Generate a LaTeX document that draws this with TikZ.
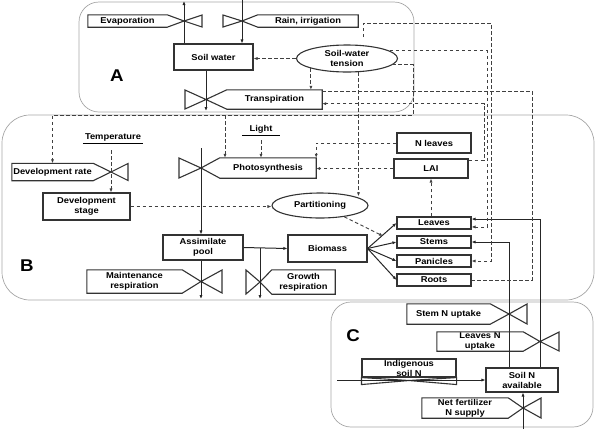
\documentclass[tikz,border=0pt]{standalone}
\usepackage{fontspec}
\setmainfont{Liberation Sans}[FakeStretch=1.1]
\usetikzlibrary{shapes.geometric,arrows.meta,calc}

\begin{document}
\begin{tikzpicture}[x=1pt,y=-1pt,
  font=\fontsize{8.5}{10}\selectfont\bfseries,
  >={Latex[length=4pt,width=3.2pt]},
  panel/.style={draw=black!35,line width=0.7pt,rounded corners=20pt},
  box/.style={draw=black!80,line width=1.1pt,align=center,inner sep=0pt},
  lbl/.style={align=center,inner sep=0pt},
  vbox/.style={draw=black!80,line width=1.1pt},
  oval/.style={ellipse,draw=black!80,line width=1.1pt,align=center,inner sep=0pt},
  flow/.style={draw=black!85,line width=1pt},
  info/.style={draw=black!75,line width=0.9pt,dash pattern=on 3.5pt off 2.5pt},
  tag/.style={font=\fontsize{17}{17}\selectfont\bfseries}]
\useasboundingbox (0,0) rectangle (602,429);

% the three sub-models
\draw[panel] (79,2) rectangle (414,112);
\draw[panel,rounded corners=28pt] (2,115) rectangle (594,300);
\draw[panel] (331,302) rectangle (593,427);
\node[tag] (tagA) at (117,76) {A};
\node[tag] (tagB) at (27,266) {B};
\node[tag] (tagC) at (353,336) {C};

% water balance
\node[box,minimum width=79pt,minimum height=26pt] (soil) at (213.5,57) {Soil water};
\node[oval,minimum width=101pt,minimum height=27pt] (tension) at (347,58.5) {Soil-water\\tension};

\coordinate (evapv) at (184,21);
\coordinate (evapout) at (184,1);
\node[lbl,minimum width=79pt,minimum height=12pt] (evap) at (127.5,21) {Evaporation};
\draw[vbox] (evap.north west) -- (evap.north east) -- (evapv) -- (evap.south east) -- (evap.south west) -- cycle;
\draw[vbox] (evapv) -- ++(18,-6) -- ++(0,12) -- cycle;

\coordinate (rainv) at (242,21);
\coordinate (rainsrc) at (242,0);
\node[lbl,minimum width=100pt,minimum height=12pt] (rain) at (308,21) {Rain, irrigation};
\draw[vbox] (rain.north east) -- (rain.north west) -- (rainv) -- (rain.south west) -- (rain.south east) -- cycle;
\draw[vbox] (rainv) -- ++(-19,-6) -- ++(0,12) -- cycle;

\coordinate (transpv) at (206,99.5);
\coordinate (transpout) at (206,111);
\node[lbl,minimum width=95pt,minimum height=19pt] (transp) at (274.5,99.5) {Transpiration};
\draw[vbox] (transp.north east) -- (transp.north west) -- (transpv) -- (transp.south west) -- (transp.south east) -- cycle;
\draw[vbox] (transpv) -- ++(-21,-9.5) -- ++(0,19) -- cycle;

\draw[flow,->] (evapv |- soil.north) -- (evapout);
\draw[flow,->] (rainsrc) -- (rainv |- soil.north);
\draw[flow,->] (transpv |- soil.south) -- (transpout);

% crop growth
\node[lbl,inner sep=2pt] (temp) at (113,137) {Temperature};
\draw[line width=0.8pt] (temp.south west) -- (temp.south east);
\node[lbl,inner sep=2pt] (light) at (261,129) {Light};
\draw[line width=0.8pt] ([xshift=-5pt]light.south west) -- ([xshift=5pt]light.south east);

\coordinate (devratev) at (111,172);
\node[lbl,minimum width=81pt,minimum height=17pt] (devrate) at (52.5,172) {Development rate};
\draw[vbox] (devrate.north west) -- (devrate.north east) -- (devratev) -- (devrate.south east) -- (devrate.south west) -- cycle;
\draw[vbox] (devratev) -- ++(17,-8.5) -- ++(0,17) -- cycle;
\node[box,minimum width=87pt,minimum height=27pt] (devstage) at (86.5,206.5) {Development\\stage};

\coordinate (photov) at (201,168);
\coordinate (photosrc) at (201,148);
\node[lbl,minimum width=96pt,minimum height=20pt] (photo) at (268,168) {Photosynthesis};
\draw[vbox] (photo.north east) -- (photo.north west) -- (photov) -- (photo.south west) -- (photo.south east) -- cycle;
\draw[vbox] (photov) -- ++(-22,-10) -- ++(0,20) -- cycle;

\node[box,minimum width=74pt,minimum height=20pt] (nleaves) at (434,143) {N leaves};
\node[box,minimum width=74pt,minimum height=19pt] (lai) at (431,168.5) {LAI};
\node[oval,minimum width=96pt,minimum height=25pt] (partit) at (320,205.5) {Partitioning};

\node[box,minimum width=74pt,minimum height=12pt] (leaves) at (434,223) {Leaves};
\node[box,minimum width=74pt,minimum height=12pt] (stems) at (434,242) {Stems};
\node[box,minimum width=74pt,minimum height=12pt] (panicles) at (434,261) {Panicles};
\node[box,minimum width=74pt,minimum height=12pt] (roots) at (434,280) {Roots};

\node[box,minimum width=80pt,minimum height=25pt] (assim) at (203,247.5) {Assimilate\\pool};
\node[box,minimum width=79pt,minimum height=27pt] (biomass) at (327.5,248.5) {Biomass};
\coordinate (split) at (383,236);

\coordinate (maintv) at (201,281.5);
\coordinate (maintout) at (201,299);
\node[lbl,minimum width=95pt,minimum height=23pt] (maint) at (134.5,281.5) {Maintenance\\respiration};
\draw[vbox] (maint.north west) -- (maint.north east) -- (maintv) -- (maint.south east) -- (maint.south west) -- cycle;
\draw[vbox] (maintv) -- ++(21,-11.5) -- ++(0,23) -- cycle;

\coordinate (growthv) at (260,282);
\coordinate (growthout) at (260,299);
\node[lbl,minimum width=63pt,minimum height=24pt] (growth) at (303.5,282) {Growth\\respiration};
\draw[vbox] (growth.north east) -- (growth.north west) -- (growthv) -- (growth.south west) -- (growth.south east) -- cycle;
\draw[vbox] (growthv) -- ++(-14,-12) -- ++(0,24) -- cycle;

\draw[flow,->] (photosrc) -- (photov |- assim.north);
\draw[flow,->] (assim.east) -- (biomass.west);
\draw[flow,->] (growthv |- assim.east) -- (growthout);
\draw[flow,->] (maintv |- assim.south) -- (maintout);
\foreach \organ in {leaves,stems,panicles,roots}
  \draw[flow,->] (biomass.east) -- (\organ.west);

% nitrogen
\coordinate (stemv) at (509,314);
\node[lbl,minimum width=83pt,minimum height=20pt] (stemup) at (448.5,314) {Stem N uptake};
\draw[vbox] (stemup.north west) -- (stemup.north east) -- (stemv) -- (stemup.south east) -- (stemup.south west) -- cycle;
\draw[vbox] (stemv) -- ++(18,-10) -- ++(0,20) -- cycle;

\coordinate (leafv) at (540,341.5);
\node[lbl,minimum width=86pt,minimum height=19pt] (leafup) at (480,341.5) {Leaves N\\uptake};
\draw[vbox] (leafup.north west) -- (leafup.north east) -- (leafv) -- (leafup.south east) -- (leafup.south west) -- cycle;
\draw[vbox] (leafv) -- ++(19,-9.5) -- ++(0,19) -- cycle;

\coordinate (fertv) at (523,408);
\coordinate (fertsrc) at (523,429);
\node[lbl,minimum width=86pt,minimum height=20pt] (fert) at (465,408) {Net fertilizer\\N supply};
\draw[vbox] (fert.north west) -- (fert.north east) -- (fertv) -- (fert.south east) -- (fert.south west) -- cycle;
\draw[vbox] (fertv) -- ++(18,-10) -- ++(0,20) -- cycle;

\node[box,minimum width=94pt,minimum height=18pt] (indig) at (409,368) {Indigenous\\soil N};
\coordinate (indigv) at (409,380.5);
\coordinate (indigsrc) at (337,380);
\draw[vbox] (indigv) -- (indig.south west) -- ++(0,7) -- cycle;
\draw[vbox] (indigv) -- (indig.south east) -- ++(0,7) -- cycle;
\node[box,minimum width=72pt,minimum height=24pt] (soiln) at (522,380) {Soil N\\available};

\draw[flow,->] (indigsrc) -- (indigsrc -| soiln.west);
\draw[flow,->] (fertsrc) -- (fertv |- soiln.south);
\draw[flow,->] (stemv |- soiln.north) -- (stemv |- stems.east) -- (stems.east);
\draw[flow,->] (leafv |- soiln.north) -- (leafv |- leaves.6) -- (leaves.6);

% information links
\coordinate (busA) at (484,0);
\coordinate (busB) at (487,0);
\coordinate (busC) at (491,0);
\coordinate (busD) at (532,0);
\coordinate (busE) at (413,0);
\coordinate (rowT) at (0,115);
\coordinate (raintap) at (363,37);
\coordinate (rainbus) at (491,23);
\coordinate (photolink) at (225,115);

\draw[info,->] (tension.west) -- (tension.west -| soil.east);
\draw[info,->] (tension.south west) -- (tension.south west |- transp.north);
\draw[info,->] (tension.-50) -- (tension.-50 |- partit.15);
\draw[info,->] (tension.10) -- (tension.10 -| busB) -- (busB |- leaves.-6) -- (leaves.-6);
\draw[info,->] (tension.-8) -- (tension.-8 -| busE) -- (busE |- rowT) -- (devrate.north |- rowT) -- (devrate.north);
\draw[info,->] (photolink) -- (photolink |- photo.north);
\draw[info,->] (raintap) |- (rainbus) -- (rainbus |- panicles.east) -- (panicles.east);
\draw[info,->] (lai.12) -- (lai.12 -| busA) -- (busA |- transp.-5) -- (transp.-5);
\draw[info] (transp.10) -- (transp.10 -| busD) -- (busD |- roots.east) -- (roots.east);
\draw[info,->] (nleaves.west) -- (nleaves.west -| photo.north east) -- (photo.north east);
\draw[info,->] (lai.west) -- (lai.west -| photo.east);
\draw[info,->] ($(light.south)+(0,5)$) -- (light.south |- photo.north);
\draw[info,->] ($(devratev |- temp.south)+(0,7)$) -- (devratev |- devstage.north);
\draw[info,->] (devstage.east) -- (devstage.east -| partit.west);
\draw[info,->] (partit.-25) -- (split);
\draw[info,->] (lai.south |- leaves.north) -- (lai.south);
\end{tikzpicture}
\end{document}
